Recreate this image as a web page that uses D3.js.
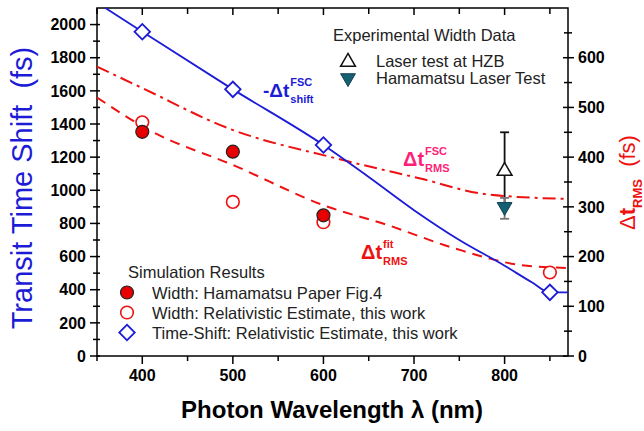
<!DOCTYPE html>
<html>
<head>
<meta charset="utf-8">
<script src="https://cdn.jsdelivr.net/npm/d3@7"></script>
<style>
  body { margin: 0; background: #fff; }
  svg { display: block; }
  text { font-family: "Liberation Sans", Arial, sans-serif; }
</style>
</head>
<body>
<svg id="chart" width="644" height="431"></svg>
<script>
// ---- Axis ticks ----
const wavelengthTicks = [400, 500, 600, 700, 800];
const wavelengthMinor = [350, 450, 550, 650, 750, 850];
const shiftTicks = [0, 200, 400, 600, 800, 1000, 1200, 1400, 1600, 1800, 2000];
const shiftMinor = [100, 300, 500, 700, 900, 1100, 1300, 1500, 1700, 1900];
const rmsTicks = [0, 100, 200, 300, 400, 500, 600];
const rmsMinor = [50, 150, 250, 350, 450, 550, 650];

// ---- Transit time shift (left axis, fs) ----
const shiftWl = [400, 500, 600, 850];
const shiftFs = [1957, 1609, 1273, 384];
const shiftCurveWl = [355, 400, 500, 600, 650, 700, 750, 800, 830, 850, 870];
const shiftCurveFs = [2115, 1957, 1609, 1273, 1080, 880, 700, 545, 445, 384, 384];

// ---- Pulse width, RMS (right axis, fs) ----
const hamaWl = [400, 500, 600];
const hamaFs = [451, 411, 283];
const relWl = [400, 500, 600, 850];
const relFs = [470, 310, 269, 168];
const fscCurveWl = [350, 400, 495, 613, 707, 781, 870];
const fscCurveFs = [582, 539, 458, 398, 357, 325, 316];
const fitCurveWl = [350, 407, 503, 602, 670, 744, 818, 870];
const fitCurveFs = [520, 455, 382, 302, 264, 217, 183, 177];

// ---- Experimental widths (right axis, fs) ----
const expLabels = ["Laser test at HZB", "Hamamatsu Laser Test"];
const expWl = [800, 800];
const expFs = [375, 297];
const expErr = [75, 21];

// ---- Colours ----
const BLUE = "#1c1cd6", RED = "#ee1111", PINK = "#ff1f78", TEAL = "#175f72";

const svg = d3.select("#chart");
const L = 97, R = 568, T = 8, B = 356;

const x = d3.scaleLinear().domain([350, 870]).range([L, R]);
const yL = d3.scaleLinear().domain([0, 2100]).range([B, T]);
const yR = d3.scaleLinear().domain([0, 700]).range([B, T]);

svg.append("defs").append("clipPath").attr("id", "plot")
  .append("rect").attr("x", L).attr("y", T).attr("width", R - L).attr("height", B - T);

// ---- Frame and ticks ----
const axes = svg.append("g").attr("stroke", "#000").attr("stroke-width", 1.5);
axes.append("rect").attr("x", L).attr("y", T).attr("width", R - L).attr("height", B - T)
  .attr("fill", "none");

function vTicks(vals, scale, xPos, outLen, inLen, dir) {
  axes.selectAll(null).data(vals).join("line")
    .attr("x1", xPos - dir * outLen).attr("x2", xPos + dir * inLen)
    .attr("y1", d => scale(d)).attr("y2", d => scale(d));
}
vTicks(shiftTicks, yL, L, 7, 3, 1);
vTicks(shiftMinor, yL, L, 4, 3, 1);
vTicks(rmsTicks, yR, R, 6, 5, -1);
vTicks(rmsMinor, yR, R, 4, 4, -1);

function hTicks(vals, yPos, len, dir) {
  axes.selectAll(null).data(vals).join("line")
    .attr("x1", d => x(d)).attr("x2", d => x(d))
    .attr("y1", yPos).attr("y2", yPos + dir * len);
}
hTicks(wavelengthTicks, B, 8, 1);
hTicks(wavelengthMinor, B, 5, 1);
hTicks(wavelengthTicks, T, 7, 1);
hTicks(wavelengthMinor, T, 6, 1);

const lab = svg.append("g").attr("font-weight", "bold").attr("font-size", 16).attr("fill", "#000");
lab.selectAll(null).data(shiftTicks).join("text")
  .attr("x", 86).attr("y", d => yL(d)).attr("dy", "0.36em").attr("text-anchor", "end").text(d => d);
lab.selectAll(null).data(rmsTicks).join("text")
  .attr("x", 578).attr("y", d => yR(d)).attr("dy", "0.36em").text(d => d);
lab.selectAll(null).data(wavelengthTicks).join("text")
  .attr("x", d => x(d)).attr("y", 381).attr("text-anchor", "middle").text(d => d);

// ---- Axis titles ----
svg.append("text").attr("x", 332).attr("y", 418).attr("text-anchor", "middle")
  .attr("font-weight", "bold").attr("font-size", 24).text("Photon Wavelength \u03bb (nm)");

svg.append("text").attr("transform", "translate(32,188) rotate(-90)")
  .attr("text-anchor", "middle").attr("font-size", 29).attr("fill", BLUE)
  .text("Transit Time Shift \u00a0(fs)");

const rt = svg.append("text").attr("transform", "translate(635,230) rotate(-90)")
  .attr("font-size", 22).attr("fill", RED);
rt.append("tspan").text("\u0394");
rt.append("tspan").attr("font-weight", "bold").text("t");
rt.append("tspan").attr("font-weight", "bold").attr("font-size", 13).attr("dy", 7).text("RMS");
rt.append("tspan").attr("dy", -7).text("\u00a0 (fs)");

// ---- Curves ----
const plot = svg.append("g").attr("clip-path", "url(#plot)");
const lineL = d3.line().x(d => x(d[0])).y(d => yL(d[1])).curve(d3.curveMonotoneX);
const lineR = d3.line().x(d => x(d[0])).y(d => yR(d[1])).curve(d3.curveMonotoneX);

plot.append("path").datum(d3.zip(fscCurveWl, fscCurveFs)).attr("d", lineR)
  .attr("fill", "none").attr("stroke", RED).attr("stroke-width", 2)
  .attr("stroke-dasharray", "13 5 3 5");
plot.append("path").datum(d3.zip(fitCurveWl, fitCurveFs)).attr("d", lineR)
  .attr("fill", "none").attr("stroke", RED).attr("stroke-width", 2)
  .attr("stroke-dasharray", "10 7");
plot.append("path").datum(d3.zip(shiftCurveWl, shiftCurveFs)).attr("d", lineL)
  .attr("fill", "none").attr("stroke", BLUE).attr("stroke-width", 1.8);

// ---- Experimental error bars ----
const eb = svg.append("g");
const ebColors = ["#111", "#777"];
expWl.forEach((w, i) => {
  const g = eb.append("g").attr("stroke", ebColors[i]).attr("stroke-width", 1.8);
  g.append("line").attr("x1", x(w)).attr("x2", x(w))
    .attr("y1", yR(expFs[i] + expErr[i])).attr("y2", yR(expFs[i] - expErr[i]));
  [expFs[i] + expErr[i], expFs[i] - expErr[i]].forEach(v => {
    g.append("line").attr("x1", x(w) - 4.5).attr("x2", x(w) + 4.5)
      .attr("y1", yR(v)).attr("y2", yR(v));
  });
});

// ---- Markers ----
const diamond = d3.symbol().type(d3.symbolSquare).size(120);
const triUp = d3.symbol().type(d3.symbolTriangle).size(95);

const marks = svg.append("g");
marks.selectAll(null).data(d3.zip(relWl, relFs)).join("circle")
  .attr("cx", d => x(d[0])).attr("cy", d => yR(d[1])).attr("r", 6.3)
  .attr("fill", "#fff").attr("stroke", RED).attr("stroke-width", 1.6);
marks.selectAll(null).data(d3.zip(hamaWl, hamaFs)).join("circle")
  .attr("cx", d => x(d[0])).attr("cy", d => yR(d[1])).attr("r", 6.5)
  .attr("fill", "#e80000").attr("stroke", "#222").attr("stroke-width", 1.2);
marks.selectAll(null).data(d3.zip(shiftWl, shiftFs)).join("path")
  .attr("d", diamond)
  .attr("transform", d => `translate(${x(d[0])},${yL(d[1])}) rotate(45)`)
  .attr("fill", "#fff").attr("stroke", BLUE).attr("stroke-width", 1.8);

// HZB (open, up) and Hamamatsu (filled, down) triangles
marks.append("path").attr("d", triUp)
  .attr("transform", `translate(${x(expWl[0])},${yR(expFs[0]) + 1.5})`)
  .attr("fill", "#fff").attr("stroke", "#111").attr("stroke-width", 1.5);
marks.append("path").attr("d", triUp)
  .attr("transform", `translate(${x(expWl[1])},${yR(expFs[1]) - 1.5}) rotate(180)`)
  .attr("fill", TEAL).attr("stroke", "#0f4452").attr("stroke-width", 1);

// ---- Curve labels ----
function subSup(xp, yp, color, main, sup, sub, size) {
  const g = svg.append("g").attr("fill", color).attr("font-weight", "bold");
  const t = g.append("text").attr("x", xp).attr("y", yp).attr("font-size", size).text(main);
  const w = t.node().getComputedTextLength();
  g.append("text").attr("x", xp + w + 1).attr("y", yp - 11).attr("font-size", 11).text(sup);
  g.append("text").attr("x", xp + w + 1).attr("y", yp + 6).attr("font-size", 11).text(sub);
}
subSup(263, 97, BLUE, "-\u0394t", "FSC", "shift", 19);
subSup(403, 166, PINK, "\u0394t", "FSC", "RMS", 20);
subSup(361, 259, RED, "\u0394t", "fit", "RMS", 20);

// ---- Legends ----
const lg = svg.append("g").attr("font-size", 16.5).attr("fill", "#222");
lg.append("text").attr("x", 128).attr("y", 277.5).text("Simulation Results");
const simRows = [
  { y: 292.5, label: "Width: Hamamatsu Paper Fig.4" },
  { y: 312.5, label: "Width: Relativistic Estimate, this work" },
  { y: 332.5, label: "Time-Shift: Relativistic Estimate, this work" }
];
simRows.forEach(r => lg.append("text").attr("x", 152).attr("y", r.y + 6).text(r.label));
lg.append("circle").attr("cx", 127).attr("cy", simRows[0].y).attr("r", 6.5)
  .attr("fill", "#e80000").attr("stroke", "#222").attr("stroke-width", 1.2);
lg.append("circle").attr("cx", 127).attr("cy", simRows[1].y).attr("r", 6.3)
  .attr("fill", "#fff").attr("stroke", RED).attr("stroke-width", 1.6);
lg.append("path").attr("d", diamond)
  .attr("transform", `translate(127,${simRows[2].y}) rotate(45)`)
  .attr("fill", "#fff").attr("stroke", BLUE).attr("stroke-width", 1.8);

lg.append("text").attr("x", 333).attr("y", 41).text("Experimental Width Data");
const expRowsY = [61, 78];
expRowsY.forEach((yy, i) => lg.append("text").attr("x", 376).attr("y", yy + 6).text(expLabels[i]));
lg.append("path").attr("d", triUp).attr("transform", `translate(348,${expRowsY[0] + 1})`)
  .attr("fill", "#fff").attr("stroke", "#111").attr("stroke-width", 1.5);
lg.append("path").attr("d", triUp).attr("transform", `translate(348,${expRowsY[1]}) rotate(180)`)
  .attr("fill", TEAL).attr("stroke", "#0f4452").attr("stroke-width", 1);
</script>
</body>
</html>
